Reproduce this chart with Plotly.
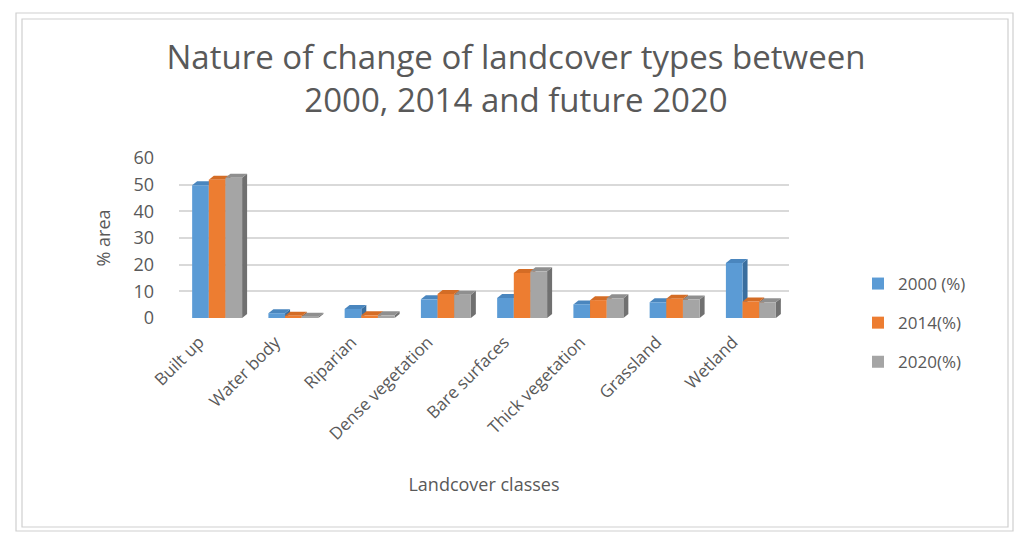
import plotly.graph_objects as go

# Landcover share (%) per class for each year
categories = ["Built up", "Water body", "Riparian", "Dense vegetation",
              "Bare surfaces", "Thick vegetation", "Grassland", "Wetland"]
y2000 = [49.8, 1.8, 3.4, 7.0, 7.5, 5.1, 5.9, 20.6]
y2014 = [51.8, 0.8, 1.0, 9.0, 16.9, 6.7, 7.2, 6.2]
y2020 = [52.6, 0.5, 1.0, 8.7, 17.5, 7.4, 6.9, 5.9]
series_names = ["2000 (%)", "2014(%)", "2020(%)"]
y_ticks = [0, 10, 20, 30, 40, 50, 60]

front_cols = ["#5B9BD5", "#ED7D31", "#A5A5A5"]
top_cols = ["#4A86BE", "#D46C25", "#8F8F8F"]
side_cols = ["#3A6E9E", "#B0571C", "#707070"]

W, H = 1019, 533
ML, MR, MT, MB = 179, 230, 158, 215
BARGAP = 0.345
N_SER = 3
BAR_W = (1 - BARGAP) / N_SER
PLOT_W = W - ML - MR
PLOT_H = H - MT - MB
Y_MAX = 60
# depth of the faux-3D faces, in axis units
DX = 5.0 / (PLOT_W / len(categories))
DY = 4.0 * Y_MAX / PLOT_H


def px_x(px):
    return (px - ML) / PLOT_W


def px_y(py):
    return (H - MB - py) / PLOT_H


xs = list(range(len(categories)))
fig = go.Figure()
all_series = [y2000, y2014, y2020]
for k, (name, vals) in enumerate(zip(series_names, all_series)):
    fig.add_trace(go.Bar(
        x=xs, y=vals, name=name, legendgroup=name,
        marker=dict(color=front_cols[k], line=dict(width=0)),
        hoverinfo="y",
    ))

# side and top faces drawn beneath the bars so neighbours hide them
shapes = []
for k, vals in enumerate(all_series):
    for i, v in enumerate(vals):
        xl = i + (k - 1) * BAR_W - BAR_W / 2
        xr = xl + BAR_W
        side = (f"M {xr},0 L {xr + DX},{DY} L {xr + DX},{v + DY} "
                f"L {xr},{v} Z")
        top = (f"M {xl},{v} L {xr},{v} L {xr + DX},{v + DY} "
               f"L {xl + DX},{v + DY} Z")
        shapes.append(dict(type="path", path=side, xref="x", yref="y",
                           fillcolor=side_cols[k], line=dict(width=0),
                           layer="between"))
        shapes.append(dict(type="path", path=top, xref="x", yref="y",
                           fillcolor=top_cols[k], line=dict(width=0),
                           layer="between"))

# chart frame (double grey border)
frame_col = "#CFCFCF"
for (x0, y0, x1, y1) in [(16, 13, 1013, 531), (22, 19, 1008, 527)]:
    shapes.append(dict(type="rect", xref="paper", yref="paper",
                       x0=px_x(x0), x1=px_x(x1), y0=px_y(y1), y1=px_y(y0),
                       line=dict(color=frame_col, width=1.2),
                       fillcolor="rgba(0,0,0,0)", layer="below"))

font_main = "Open Sans, DejaVu Sans, sans-serif"
grey = "#595959"

fig.update_layout(
    width=W, height=H,
    margin=dict(l=ML, r=MR, t=MT, b=MB, autoexpand=False),
    paper_bgcolor="white", plot_bgcolor="white",
    barmode="group", bargap=BARGAP, bargroupgap=0,
    font=dict(family=font_main, color=grey, size=16),
    title=dict(
        text="Nature of change of landcover types between<br>2000, 2014 and future 2020",
        x=px_x(516), xanchor="center", xref="paper",
        y=1 - 69 / H, yanchor="middle", yref="container",
        font=dict(size=33, color=grey, family="Open Sans, sans-serif"),
    ),
    xaxis=dict(
        range=[-0.5, len(categories) - 0.5],
        tickmode="array", tickvals=xs, ticktext=categories,
        tickangle=-45, showgrid=False, zeroline=False, showline=False,
        ticks="", tickfont=dict(size=17, color=grey),
        ticklabelshift=-18, ticklabelstandoff=10,
        title=dict(text="Landcover classes", standoff=34,
                   font=dict(size=18, color=grey)),
    ),
    yaxis=dict(
        range=[0, Y_MAX], tickmode="array", tickvals=y_ticks,
        showgrid=True, gridcolor="#D9D9D9", gridwidth=1.5,
        zeroline=False, showline=False, ticks="",
        ticklabelstandoff=24,
        tickfont=dict(size=18, color=grey),
        title=dict(text="% area", standoff=18,
                   font=dict(size=18, color=grey)),
    ),
    legend=dict(
        x=px_x(858), xanchor="left", y=px_y(323), yanchor="middle",
        traceorder="grouped", tracegroupgap=14,
        font=dict(size=17, color=grey), itemwidth=30,
        bgcolor="rgba(0,0,0,0)",
    ),
    shapes=shapes,
    showlegend=True,
)

fig.write_html("out.html")
